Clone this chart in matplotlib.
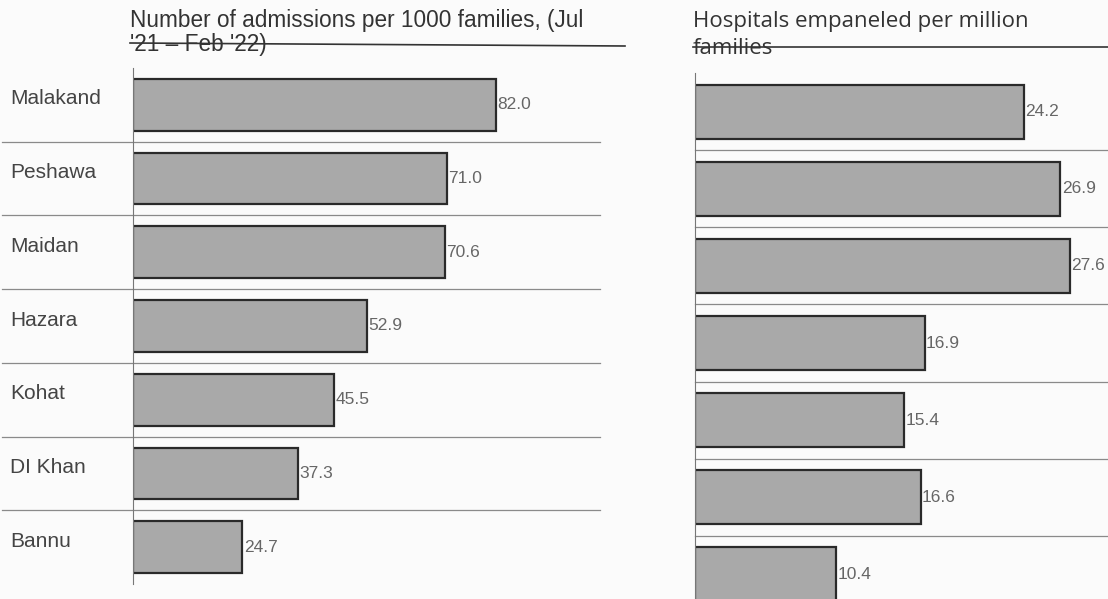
import matplotlib
matplotlib.use("Agg")
import matplotlib.pyplot as plt

plt.rcParams['font.family'] = ['Liberation Sans', 'DejaVu Sans']

categories = ["Malakand", "Peshawa", "Maidan", "Hazara", "Kohat", "DI Khan", "Bannu"]
admissions = [82.0, 71.0, 70.6, 52.9, 45.5, 37.3, 24.7]
hospitals = [24.2, 26.9, 27.6, 16.9, 15.4, 16.6, 10.4]
title_left = "Number of admissions per 1000 families, (Jul\n'21 \u2013 Feb '22)"
title_right = "Hospitals empaneled per million\nfamilies"

W, H = 1108, 599
fig = plt.figure(figsize=(W / 100, H / 100), dpi=100)
fig.patch.set_facecolor("#fbfbfb")

bar_face = "#a9a9a9"
bar_edge = "#2a2a2a"
txt = "#444444"
sep = "#8a8a8a"

def fx(px):
    return px / W

def fy(py):
    return 1 - py / H

# left axes
axL = fig.add_axes([fx(133), fy(584), fx(600 - 133), (584 - 68) / H])
# right axes
axR = fig.add_axes([fx(695), fy(613), fx(1108 - 695), (613 - 73) / H])

ypos = list(range(len(categories)))

for ax, vals, xmax, sepx0 in [(axL, admissions, 105.6, -0.28), (axR, hospitals, 30.4, 0.0)]:
    ax.set_facecolor("none")
    ax.barh(ypos, vals, height=0.7, color=bar_face, edgecolor=bar_edge, linewidth=1.6)
    ax.set_xlim(0, xmax)
    ax.set_ylim(6.5, -0.5)
    for i, v in enumerate(vals):
        ax.text(v + xmax * 0.003, i, f"{v:.1f}",
                va="center", ha="left", fontsize=12.5, color="#666666")
    for i in range(len(vals) - 1):
        ax.axhline(i + 0.5, xmin=sepx0, xmax=1.0, color=sep, linewidth=0.9, clip_on=False)
    ax.set_xticks([])
    ax.set_yticks([])
    for s in ["top", "right", "bottom"]:
        ax.spines[s].set_visible(False)
    ax.spines["left"].set_color("#777777")
    ax.spines["left"].set_linewidth(0.8)

for i, c in enumerate(categories):
    axL.text(-123 / 467 * 105.6, i - 0.08, c, ha="left", va="center", fontsize=15, color=txt)

# titles
fig.text(fx(130), fy(9), title_left, ha="left", va="top", fontsize=16.3, color="#333333",
         linespacing=1.08)
fig.text(fx(693), fy(11), title_right, ha="left", va="top", fontsize=16, color="#333333",
         linespacing=1.4, family=["Open Sans", "DejaVu Sans"])
fig.add_artist(plt.Line2D([fx(130), fx(625)], [fy(43), fy(46)], color="#333333", linewidth=1.2))
fig.add_artist(plt.Line2D([fx(693), fx(1108)], [fy(47), fy(47)], color="#333333", linewidth=1.2))

fig.savefig("out.png", dpi=100, facecolor=fig.get_facecolor())
